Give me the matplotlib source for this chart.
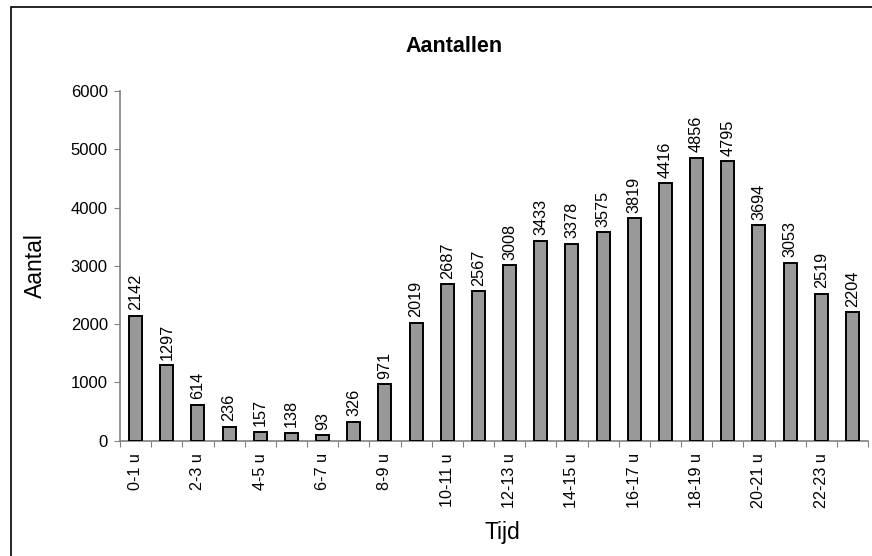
import matplotlib
matplotlib.use("Agg")
import matplotlib.pyplot as plt
from matplotlib.patches import Rectangle

plt.rcParams['font.family'] = ['Liberation Sans', 'DejaVu Sans']

categories = ["0-1 u", "1-2 u", "2-3 u", "3-4 u", "4-5 u", "5-6 u", "6-7 u", "7-8 u",
              "8-9 u", "9-10 u", "10-11 u", "11-12 u", "12-13 u", "13-14 u", "14-15 u",
              "15-16 u", "16-17 u", "17-18 u", "18-19 u", "19-20 u", "20-21 u",
              "21-22 u", "22-23 u", "23-24 u"]
values = [2142, 1297, 614, 236, 157, 138, 93, 326, 971, 2019, 2687, 2567, 3008, 3433,
          3378, 3575, 3819, 4416, 4856, 4795, 3694, 3053, 2519, 2204]
yticks = [0, 1000, 2000, 3000, 4000, 5000, 6000]

W, H = 872, 556
fig = plt.figure(figsize=(W / 100, H / 100), dpi=100)
ax = fig.add_axes([120 / W, 1 - 440.7 / H, (868 - 120) / W, (440.7 - 91) / H])

n = len(values)
x = list(range(n))
ax.bar(x, values, width=0.42, color='#999999', edgecolor='black', linewidth=1.4, zorder=3)
for xi, v in zip(x, values):
    ax.annotate(str(v), (xi, v), xytext=(0, 4), textcoords='offset points',
                rotation=90, ha='center', va='bottom', fontsize=11.7)

ax.set_xlim(-0.5, n - 0.5)
ax.set_ylim(0, 6000)
ax.set_yticks(yticks)
ax.set_yticklabels([str(t) for t in yticks], fontsize=12)

ax.set_xticks([i - 0.5 for i in range(n + 1)])
ax.set_xticklabels([])
ax.set_xticks(x[::2], minor=True)
ax.set_xticklabels(categories[::2], minor=True, rotation=90, fontsize=11.6)
ax.tick_params(axis='x', which='minor', length=0, pad=9)
ax.tick_params(axis='x', which='major', length=4.3, color='#808080', direction='out')
ax.tick_params(axis='y', length=4.3, color='#808080', direction='out', pad=4.5)

for s in ['top', 'right']:
    ax.spines[s].set_visible(False)
for s in ['left', 'bottom']:
    ax.spines[s].set_color('#808080')
    ax.spines[s].set_linewidth(1.2)

fig.text(454 / W, 1 - 52.3 / H, "Aantallen", ha='center', va='baseline',
         fontsize=15.5, fontweight='bold')
fig.text(35 / W, 1 - 266 / H, "Aantal", ha='center', va='center',
         rotation=90, fontsize=16.5)
fig.text(502.5 / W, 1 - 539.3 / H, "Tijd", ha='center', va='baseline', fontsize=16.5)

fig.patches.append(Rectangle((10.5 / W, -0.1), 1.2, 1 - 6.5 / H + 0.1,
                             transform=fig.transFigure, fill=False,
                             edgecolor='black', linewidth=1.2))

fig.savefig("out.png", dpi=100)
